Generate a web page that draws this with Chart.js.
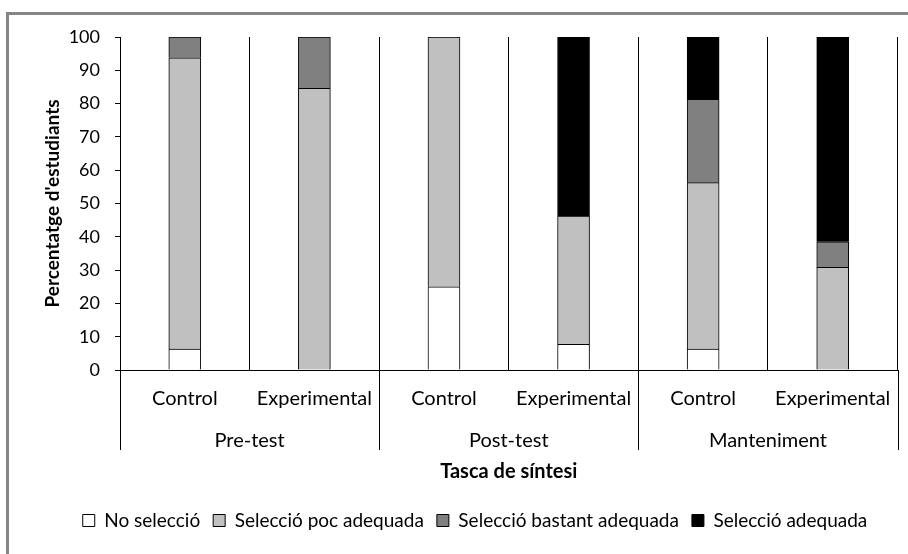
<!DOCTYPE html>
<html>
<head>
<meta charset="utf-8">
<script src="https://cdn.jsdelivr.net/npm/chart.js@4/dist/chart.umd.min.js"></script>
<style>
  body { margin: 0; background: #fff; overflow: hidden; }
  #frame { position: absolute; left: 6px; top: 12px; width: 1000px; height: 600px;
           border-top: 3px solid #868686; border-left: 3px solid #868686; }
  #c { position: absolute; left: 0; top: 0; }
</style>
</head>
<body>
<div id="frame"></div>
<canvas id="c" width="908" height="554"></canvas>
<script>
// categories and groups
const categories = ['Control', 'Experimental', 'Control', 'Experimental', 'Control', 'Experimental'];
const groups = ['Pre-test', 'Post-test', 'Manteniment'];
const yTicks = [0, 10, 20, 30, 40, 50, 60, 70, 80, 90, 100];

// percentages per series
const noSeleccio = [6.25, 0, 25, 7.7, 6.25, 0];
const pocAdequada = [87.5, 84.6, 75, 38.5, 50, 30.8];
const bastantAdequada = [6.25, 15.4, 0, 0, 25, 7.7];
const adequada = [0, 0, 0, 53.8, 18.75, 61.5];

Chart.defaults.font.family = 'Lato';
Chart.defaults.color = '#000';

// group labels + separators under the category labels
const groupAxis = {
    id: 'groupAxis',
    afterDraw(chart) {
        var ctx = chart.ctx;
        var x = chart.scales.x;
        var top = x.top;
        var lineBottom = 450;
        var edges = [x.left];
        for (var g = 0; g < groups.length; g++) {
            var last = g * 2 + 1;
            if (last < categories.length - 1) {
                edges.push((x.getPixelForValue(last) + x.getPixelForValue(last + 1)) / 2);
            } else {
                edges.push(x.right);
            }
        }
        ctx.save();
        ctx.strokeStyle = '#000';
        ctx.lineWidth = 1;
        edges.forEach(function (ex) {
            ctx.beginPath();
            ctx.moveTo(Math.round(ex) + 0.5, top);
            ctx.lineTo(Math.round(ex) + 0.5, lineBottom);
            ctx.stroke();
        });
        ctx.fillStyle = '#000';
        ctx.font = '20px Lato';
        ctx.textAlign = 'center';
        ctx.textBaseline = 'middle';
        for (var i = 0; i < groups.length; i++) {
            ctx.fillText(groups[i], (edges[i] + edges[i + 1]) / 2, 441);
        }
        ctx.restore();
    }
};

function ds(label, data, color) {
    return {
        label: label,
        data: data,
        backgroundColor: color,
        borderColor: '#000',
        borderWidth: 1,
        borderSkipped: 'bottom'
    };
}

new Chart(document.getElementById('c').getContext('2d'), {
    type: 'bar',
    data: {
        labels: categories,
        datasets: [
            ds('No selecció', noSeleccio, '#ffffff'),
            ds('Selecció poc adequada', pocAdequada, '#c0c0c0'),
            ds('Selecció bastant adequada', bastantAdequada, '#808080'),
            ds('Selecció adequada', adequada, '#000000')
        ]
    },
    options: {
        responsive: false,
        animation: false,
        layout: { padding: { top: 37, right: 8, left: 50, bottom: 14 } },
        datasets: { bar: { categoryPercentage: 1, barThickness: 32 } },
        plugins: {
            tooltip: { enabled: false },
            legend: {
                position: 'bottom',
                labels: {
                    boxWidth: 12,
                    boxHeight: 12,
                    padding: 13,
                    font: { size: 19 },
                    color: '#000'
                }
            }
        },
        scales: {
            x: {
                stacked: true,
                grid: { color: '#000', drawTicks: false, offset: true },
                border: { color: '#000' },
                ticks: { padding: 17, font: { size: 20 }, maxRotation: 0, autoSkip: false },
                title: {
                    display: true,
                    text: 'Tasca de síntesi',
                    font: { size: 20, weight: 'bold' },
                    padding: { top: 0, bottom: 14 }
                },
                afterFit: function (scale) { scale.height = 128; }
            },
            y: {
                stacked: true,
                min: 0,
                max: 100,
                afterBuildTicks: function (scale) {
                    scale.ticks = yTicks.map(function (v) { return { value: v }; });
                },
                grid: { drawOnChartArea: false, color: '#000', tickLength: 5 },
                border: { color: '#000' },
                ticks: { padding: 15, font: { size: 18 } },
                title: {
                    display: true,
                    text: "Percentatge d'estudiants",
                    font: { size: 19, weight: 'bold' },
                    padding: { top: -9, bottom: 0 }
                },
                afterFit: function (scale) { scale.width = 70; }
            }
        }
    },
    plugins: [groupAxis]
});
</script>
</body>
</html>
